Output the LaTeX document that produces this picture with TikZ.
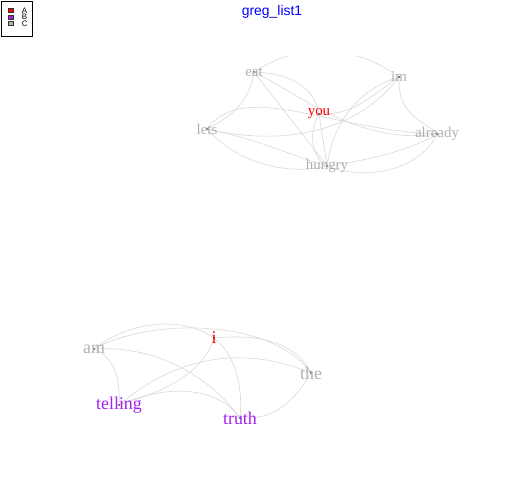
\documentclass[tikz,border=0pt]{standalone}
\usepackage{fontspec}
\usetikzlibrary{positioning}
\setmainfont{Liberation Serif}
\newfontfamily\helv{Liberation Sans}
\definecolor{grpA}{HTML}{FF0000}
\definecolor{grpB}{HTML}{A020F0}
\definecolor{grpC}{HTML}{B0B0B0}
\definecolor{edgecol}{HTML}{D8D8D8}
\begin{document}
\begin{tikzpicture}[x=1bp,y=-1bp,
	vdot/.style={circle,fill=black!70,inner sep=0pt,minimum size=2.2bp},
	edge/.style={draw=edgecol,line width=0.6bp},
	lbl/.style={inner sep=0pt,font=\fontsize{15}{15}\selectfont},
	lblbig/.style={inner sep=0pt,font=\fontsize{18}{18}\selectfont},
	keytext/.style={inner sep=0pt,font=\helv\fontsize{8}{8}\selectfont},
	key/.style={draw=black!80,line width=0.4bp,minimum width=5bp,minimum height=3.6bp,inner sep=0pt}]
	\useasboundingbox (0,0) rectangle (504,504);
	% title and legend
	\node[blue,font=\helv\fontsize{14}{14}\selectfont] (title) at (272,12) {greg\_list1};
	\draw[line width=0.5bp] (1.5,1.5) rectangle (32.5,36.5);
	\node[key,fill=grpA] (keyA) at (11,10.5) {};
	\node[key,fill=grpB] (keyB) at (11,17) {};
	\node[key,fill=grpC] (keyC) at (11,23.5) {};
	\node[keytext,right=8bp of keyA] {A};
	\node[keytext,right=8bp of keyB] {B};
	\node[keytext,right=8bp of keyC] {C};
	% vertices, first list
	\node[vdot] (eat) at (254,72) {};
	\node[vdot] (im) at (399,77) {};
	\node[vdot] (you) at (319,114) {};
	\node[vdot] (lets) at (207,129) {};
	\node[vdot] (already) at (437,134) {};
	\node[vdot] (hungry) at (327,166) {};
	% vertices, second list
	\node[vdot] (i) at (214,338) {};
	\node[vdot] (am) at (94,349) {};
	\node[vdot] (the) at (311,373) {};
	\node[vdot] (telling) at (119,405) {};
	\node[vdot] (truth) at (240,418) {};
	% edges
	\begin{scope}
		\clip (0,57) rectangle (504,504);
		\draw[edge] (eat) .. controls (300,42) and (355,45) .. (im);
		\draw[edge] (eat) .. controls (250,95) and (240,112) .. (lets);
		\draw[edge] (eat) .. controls (300,74) and (316,95) .. (you);
		\draw[edge] (eat) -- (hungry);
		\draw[edge] (eat) .. controls (300,95) and (360,145) .. (already);
		\draw[edge] (lets) .. controls (245,80) and (330,130) .. (already);
		\draw[edge] (lets) .. controls (290,148) and (360,128) .. (im);
		\draw[edge] (lets) .. controls (260,140) and (290,155) .. (hungry);
		\draw[edge] (lets) .. controls (240,165) and (290,175) .. (hungry);
		\draw[edge] (you) .. controls (355,115) and (372,95) .. (im);
		\draw[edge] (you) .. controls (308,132) and (312,158) .. (hungry);
		\draw[edge] (you) -- (hungry);
		\draw[edge] (im) .. controls (352,92) and (332,130) .. (hungry);
		\draw[edge] (im) .. controls (398,115) and (420,118) .. (already);
		\draw[edge] (hungry) .. controls (370,160) and (410,150) .. (already);
		\draw[edge] (hungry) .. controls (370,182) and (420,168) .. (already);
	\end{scope}
	\draw[edge] (am) .. controls (135,318) and (185,318) .. (i);
	\draw[edge] (am) .. controls (150,318) and (270,318) .. (the);
	\draw[edge] (am) .. controls (118,360) and (120,385) .. (telling);
	\draw[edge] (am) .. controls (170,345) and (220,390) .. (truth);
	\draw[edge] (i) .. controls (270,333) and (298,348) .. (the);
	\draw[edge] (i) .. controls (200,380) and (150,395) .. (telling);
	\draw[edge] (i) .. controls (240,360) and (242,395) .. (truth);
	\draw[edge] (telling) .. controls (170,362) and (235,342) .. (the);
	\draw[edge] (telling) .. controls (165,385) and (215,385) .. (truth);
	\draw[edge] (the) .. controls (295,400) and (275,420) .. (truth);
	% labels
	\node[lbl,grpC] at (eat) {eat};
	\node[lbl,grpC] at (im) {im};
	\node[lbl,grpA] at (you) {you};
	\node[lbl,grpC] at (lets) {lets};
	\node[lbl,grpC] at (already) {already};
	\node[lbl,grpC] at (hungry) {hungry};
	\node[lblbig,grpA] at (i) {i};
	\node[lblbig,grpC] at (am) {am};
	\node[lblbig,grpC] at (the) {the};
	\node[lblbig,grpB] at (telling) {telling};
	\node[lblbig,grpB] at (truth) {truth};
\end{tikzpicture}
\end{document}
